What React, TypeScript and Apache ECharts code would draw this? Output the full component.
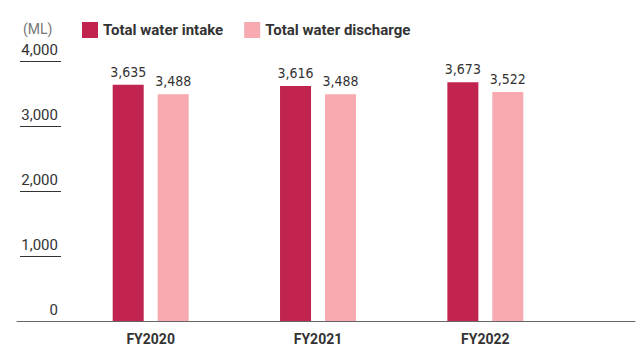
import React, { useEffect, useRef } from "react";
import * as echarts from "echarts";

const categories = ["FY2020", "FY2021", "FY2022"];
const intake = [3635, 3616, 3673];
const discharge = [3488, 3488, 3522];
const seriesNames = ["Total water intake", "Total water discharge"];
const unitLabel = "(ML)";

const INTAKE_COLOR = "#C1244F";
const DISCHARGE_COLOR = "#F7AAB0";

export default function App() {
  const ref = useRef<HTMLDivElement>(null);

  useEffect(() => {
    if (!ref.current) return;
    const chart = echarts.init(ref.current, null, { renderer: "svg" });
    const valueLabel = {
      show: true,
      position: "top" as const,
      distance: 6,
      color: "#333",
      fontSize: 14,
      fontFamily: "'Liberation Sans Narrow', 'DejaVu Sans Condensed', Roboto, sans-serif",
      formatter: (p: any) => Number(p.value).toLocaleString("en-US"),
    };
    chart.setOption({
      animation: false,
      textStyle: { fontFamily: "Roboto, 'Noto Sans', sans-serif" },
      title: {
        text: unitLabel,
        left: 18,
        top: 17,
        textStyle: { fontSize: 14, fontWeight: "normal", color: "#777" },
      },
      legend: {
        left: 77,
        top: 17,
        itemWidth: 16,
        itemHeight: 16,
        itemGap: 21,
        icon: "rect",
        textStyle: { fontSize: 15, fontWeight: "bold", color: "#333" },
        data: seriesNames,
      },
      grid: [
        // bar area
        { left: 67, width: 502, top: 61, bottom: 29 },
        // short tick rules under the y labels
        { left: 20, width: 41, top: 61, bottom: 29 },
        // full-width baseline
        { left: 17, right: 8, top: 61, bottom: 29 },
      ],
      xAxis: [
        {
          type: "category",
          gridIndex: 0,
          data: categories,
          axisLine: { show: false },
          axisTick: { show: false },
          axisLabel: { color: "#333", fontSize: 14, fontWeight: "bold", margin: 11 },
        },
        { type: "value", gridIndex: 1, show: false },
        {
          type: "value",
          gridIndex: 2,
          axisLine: { show: true, lineStyle: { color: "#666", width: 1 } },
          axisTick: { show: false },
          axisLabel: { show: false },
          splitLine: { show: false },
        },
      ],
      yAxis: [
        { type: "value", gridIndex: 0, min: 0, max: 4000, interval: 1000, show: false },
        {
          type: "value",
          gridIndex: 1,
          position: "right",
          min: 0,
          max: 4000,
          interval: 1000,
          axisLine: { show: false },
          axisTick: { show: false },
          splitLine: { show: true, lineStyle: { color: "#333", width: 1 } },
          axisLabel: {
            inside: true,
            margin: 3,
            align: "right",
            verticalAlign: "bottom",
            padding: [0, 0, 4, 0],
            color: "#333",
            fontSize: 15,
            formatter: (v: number) => v.toLocaleString("en-US"),
          },
        },
        { type: "value", gridIndex: 2, min: 0, max: 4000, show: false },
      ],
      series: [
        {
          name: seriesNames[0],
          type: "bar",
          xAxisIndex: 0,
          yAxisIndex: 0,
          data: intake,
          barWidth: 31,
          barGap: "45%",
          itemStyle: { color: INTAKE_COLOR },
          label: valueLabel,
        },
        {
          name: seriesNames[1],
          type: "bar",
          xAxisIndex: 0,
          yAxisIndex: 0,
          data: discharge,
          barWidth: 31,
          barGap: "45%",
          itemStyle: { color: DISCHARGE_COLOR },
          label: valueLabel,
        },
      ],
    });
    return () => chart.dispose();
  }, []);

  return (
    <div
      ref={ref}
      style={{ position: "absolute", left: 0, top: 0, width: 643, height: 350 }}
    />
  );
}
